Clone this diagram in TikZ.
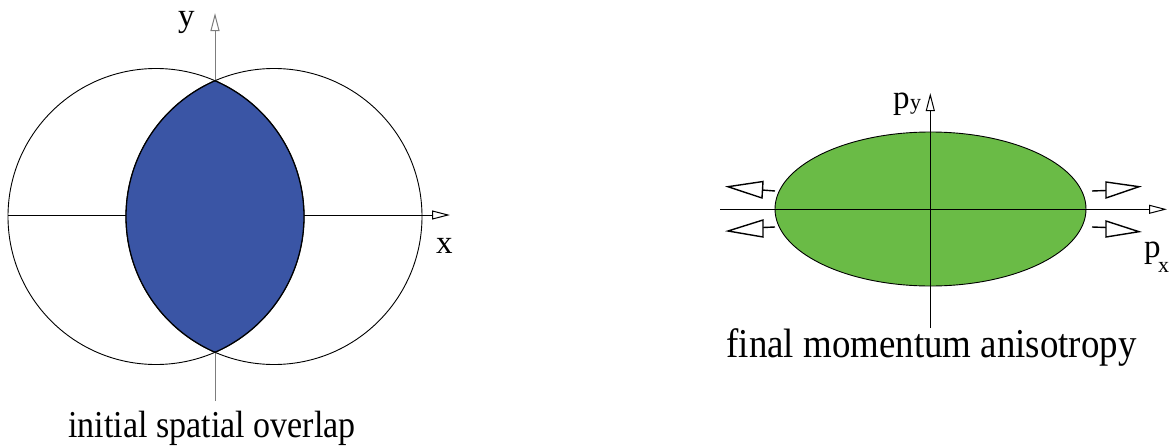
\documentclass[tikz,border=0pt]{standalone}
\usepackage{fontspec}
\setmainfont{LiberationSerif}[Extension=.ttf, UprightFont=*-Regular]
\usetikzlibrary{arrows.meta}
\definecolor{lensblue}{RGB}{58,85,165}
\definecolor{ellgreen}{RGB}{106,187,70}
\definecolor{axisgray}{RGB}{125,125,125}
\begin{document}
\begin{tikzpicture}[x=1pt,y=-1pt,
  axis/.style={line width=1pt,-{Triangle[open,length=18pt,width=9pt,line width=1pt]}},
  thinline/.style={line width=0.9pt},
  lensline/.style={line width=1.3pt},
  lbl/.style={font=\fontsize{33}{38}\selectfont, inner sep=0pt, anchor=base west},
  sublbl/.style={font=\fontsize{22}{26}\selectfont, inner sep=0pt, anchor=base west},
  captext/.style={inner sep=0pt, anchor=base},
  openhead/.style={line width=1.4pt, line join=miter, fill=white}]
\useasboundingbox (0,0) rectangle (1170,447);

% ---------- left: spatial overlap ----------
\coordinate (cl) at (156,216.5);
\coordinate (cr) at (274,216.5);
\coordinate (xs) at (8,215);
\coordinate (xe) at (450,215);
\coordinate (ys) at (215,401);
\coordinate (ye) at (215,13);
\draw[axis] (xs) -- (xe);
\draw[axis, draw=axisgray] (ys) -- (ye);
\draw[thinline] (cl) circle[radius=148];
\draw[thinline] (cr) circle[radius=148];
\begin{scope}
  \clip (cl) circle[radius=148];
  \fill[lensblue] (cr) circle[radius=148];
  \draw[lensline] (cr) circle[radius=148];
\end{scope}
\begin{scope}
  \clip (cr) circle[radius=148];
  \draw[lensline] (cl) circle[radius=148];
\end{scope}
\node[lbl] (ylab) at (178,27) {y};
\node[lbl] (xlab) at (436,253) {x};
\node[captext, font=\fontsize{38}{44}\selectfont] (cap1) at (212,437) {\scalebox{0.895}[1]{initial spatial overlap}};

% ---------- right: momentum anisotropy ----------
\coordinate (ec) at (930.5,209);
\filldraw[fill=ellgreen, thinline] (ec) ellipse[x radius=155.5, y radius=77];
\coordinate (pxs) at (720,209.3);
\coordinate (pxe) at (1167,209.3);
\coordinate (pys) at (930.3,328);
\coordinate (pye) at (930.3,93);
\draw[axis] (pxs) -- (pxe);
\draw[axis] (pys) -- (pye);

% flow arrows, left
\draw[openhead] (775,191) -- (762,190);
\draw[openhead] (763,181.5) -- (728,186.7) -- (762,198) -- cycle;
\draw[openhead] (775,227) -- (763,227.5);
\draw[openhead] (763,220) -- (728,231) -- (763,237) -- cycle;
% flow arrows, right
\draw[openhead] (1092,191) -- (1106,190.5);
\draw[openhead] (1106,182) -- (1139,186.7) -- (1106,198) -- cycle;
\draw[openhead] (1092,227) -- (1106,227.5);
\draw[openhead] (1106,221) -- (1139,231.7) -- (1106,237) -- cycle;

\node[lbl] (pylab) at (893,108) {p};
\node[sublbl] (pysub) at (910,109) {y};
\node[lbl] (pxlab) at (1144,257) {p};
\node[sublbl] (pxsub) at (1158,272) {x};
\node[captext, font=\fontsize{41}{48}\selectfont] (cap2) at (931.5,357) {\scalebox{0.9}[1]{final momentum anisotropy}};
\end{tikzpicture}
\end{document}
